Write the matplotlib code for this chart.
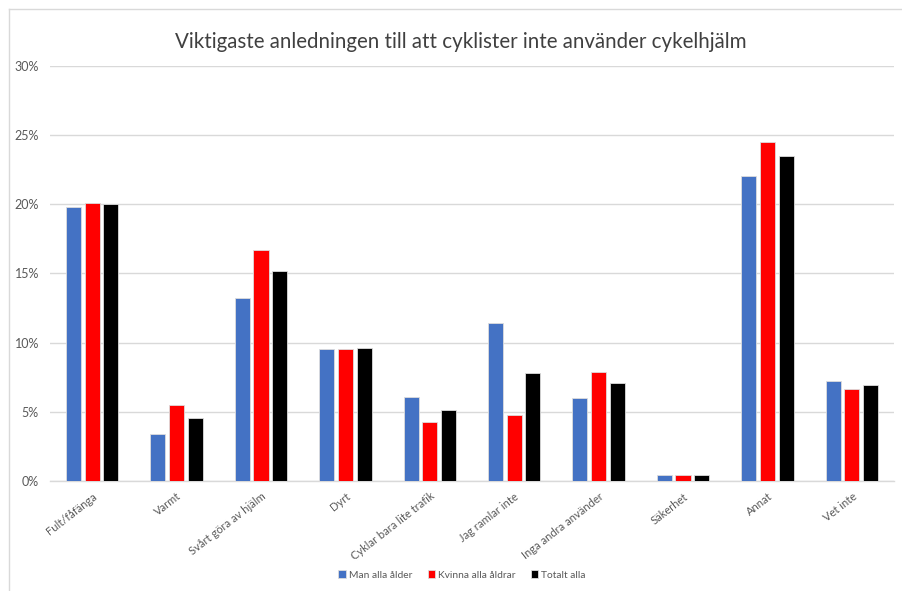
import matplotlib
matplotlib.use("Agg")
import matplotlib.pyplot as plt
import numpy as np
from matplotlib.ticker import FuncFormatter, MultipleLocator
from matplotlib.lines import Line2D

categories = ["Fult/fåfänga", "Varmt", "Svårt göra av hjälm", "Dyrt",
              "Cyklar bara lite trafik", "Jag ramlar inte", "Inga andra använder",
              "Säkerhet", "Annat", "Vet inte"]
series_names = ["Man alla ålder", "Kvinna alla åldrar", "Totalt alla"]
man = [19.8, 3.4, 13.2, 9.55, 6.1, 11.4, 6.0, 0.43, 22.0, 7.2]
kvinna = [20.1, 5.5, 16.7, 9.55, 4.25, 4.8, 7.85, 0.43, 24.5, 6.65]
totalt = [20.0, 4.55, 15.2, 9.6, 5.1, 7.8, 7.05, 0.43, 23.5, 6.9]
colors = ["#4472C4", "#FF0000", "#000000"]
title = "Viktigaste anledningen till att cyklister inte använder cykelhjälm"

plt.rcParams['font.family'] = ['Lato', 'DejaVu Sans']
W, H = 902, 591
fig = plt.figure(figsize=(W / 100, H / 100), dpi=100)
ax = fig.add_axes([50 / W, 1 - 481 / H, (894 - 50) / W, (481 - 65.7) / H])

x = np.arange(len(categories))
pitch = 0.222
width = 0.178
for i, (vals, c) in enumerate(zip([man, kvinna, totalt], colors)):
    ax.bar(x + (i - 1) * pitch, vals, width=width, color=c, label=series_names[i],
           edgecolor="#dddddd", linewidth=0.6, zorder=3)

ax.set_xlim(-0.5, len(categories) - 0.5)
ax.set_ylim(0, 30)
ax.yaxis.set_major_locator(MultipleLocator(5))
ax.yaxis.set_major_formatter(FuncFormatter(lambda v, p: f"{int(round(v))}%"))
ax.grid(axis="y", color="#d9d9d9", linewidth=1.0, zorder=0)
for s in ["top", "right", "left"]:
    ax.spines[s].set_visible(False)
ax.spines["bottom"].set_color("#d9d9d9")
ax.spines["bottom"].set_linewidth(1.0)
ax.tick_params(axis="both", length=0, colors="#595959", labelsize=9)
ax.tick_params(axis="y", pad=8)
ax.set_xticks(x)
ax.set_xticklabels(categories, rotation=38, ha="right", rotation_mode="anchor",
                   color="#595959", fontsize=8)
ax.tick_params(axis="x", pad=7)

fig.text(461 / W, 1 - 42 / H, title, ha="center", va="center", fontsize=14.8, color="#404040")

leg = fig.legend(loc="center", bbox_to_anchor=(462 / W, 1 - 575 / H), ncol=3, frameon=False,
                 fontsize=7.4, handlelength=0.7, handleheight=0.7, handletextpad=0.3,
                 columnspacing=1.5, labelcolor="#595959")

# chart frame
fig.add_artist(Line2D([9 / W, 9 / W], [0, 1 - 9 / H], color="#d9d9d9", linewidth=1.0, transform=fig.transFigure))
fig.add_artist(Line2D([9 / W, 1], [1 - 9 / H, 1 - 9 / H], color="#d9d9d9", linewidth=1.0, transform=fig.transFigure))

fig.savefig("out.png", dpi=100)
